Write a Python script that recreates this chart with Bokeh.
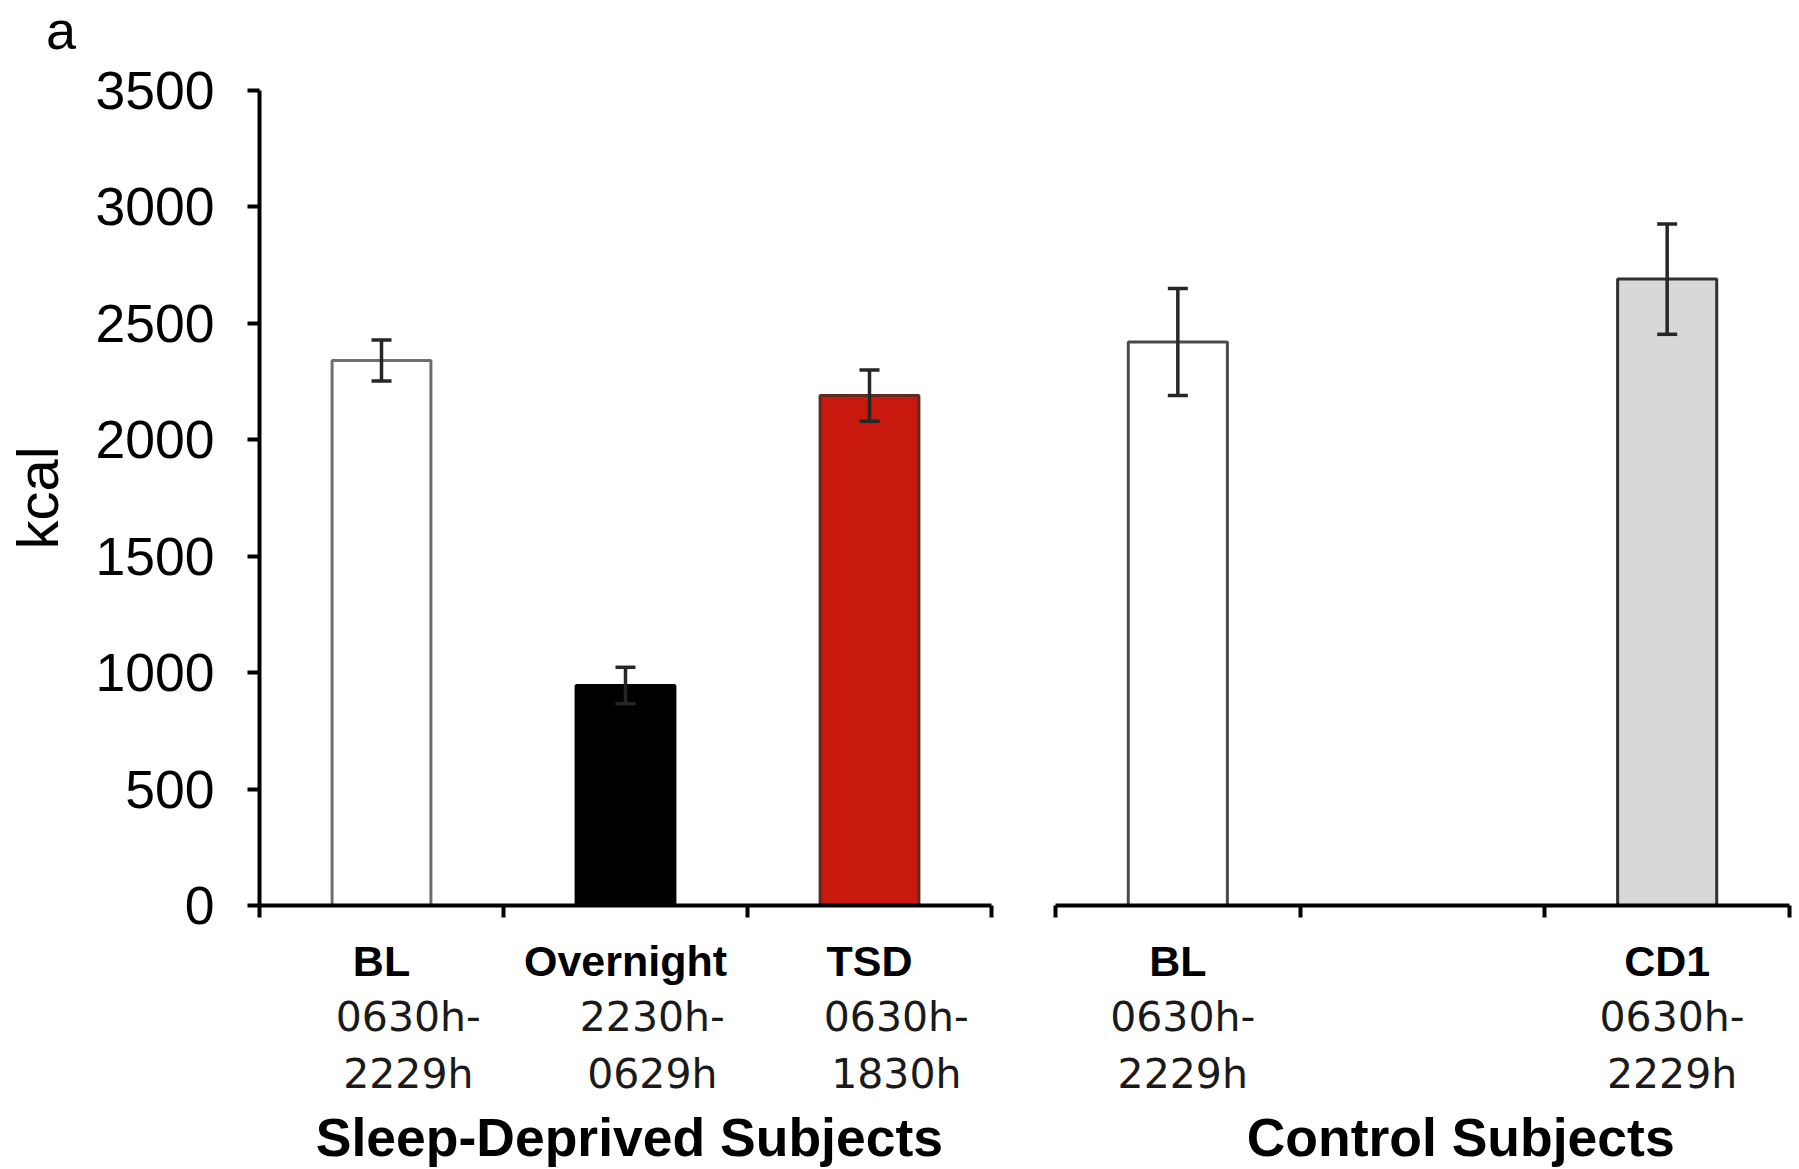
import numpy as np
from bokeh.plotting import figure
from bokeh.models import (LinearAxis, FixedTicker, Range1d, ColumnDataSource,
                          Whisker, TeeHead, Div)
from bokeh.layouts import row, column
from bokeh.embed import file_html
from bokeh.resources import INLINE

# ---------------- data ----------------
sd_names = ["BL", "Overnight", "TSD"]
sd_times = ["0630h-\n2229h", "2230h-\n0629h", "0630h-\n1830h"]
sd_kcal = [2340, 945, 2190]
sd_sem = [88, 78, 110]
sd_fill = ["#FFFFFF", "#000000", "#C8190F"]
sd_edge = ["#6E6E6E", "#000000", "#5E2A25"]

ctrl_names = ["BL", "", "CD1"]
ctrl_times = ["0630h-\n2229h", "", "0630h-\n2229h"]
ctrl_kcal = [2420, np.nan, 2690]
ctrl_sem = [230, np.nan, 237]
ctrl_fill = ["#FFFFFF", "#FFFFFF", "#D8D8D8"]
ctrl_edge = ["#4A4A4A", "#4A4A4A", "#303030"]

group_labels = ["Sleep-Deprived Subjects", "Control Subjects"]
y_ticks = [0, 500, 1000, 1500, 2000, 2500, 3000, 3500]
y_label = "kcal"
panel_letter = "a"

# ---------------- layout constants ----------------
DIV_H = 61
H = 1169 - DIV_H
TOP = 90 - DIV_H
BOTTOM = 1169 - 906
BAR_W = 0.405
ERR_COLOR = "#262626"

y_range = Range1d(0, 3500)


def plain_axis(**kw):
    base = dict(axis_line_color=None, major_tick_line_color=None,
                major_tick_out=0, major_tick_in=0,
                minor_tick_out=0, minor_tick_in=0,
                major_label_text_color="black")
    base.update(kw)
    return LinearAxis(**base)


def make_panel(names, times, kcal, sem, fill, edge, group_label, width,
               border_left, border_right, time_shift, group_pos, with_y):
    n = len(names)
    p = figure(width=width, height=H, x_range=Range1d(0, n), y_range=y_range,
               x_axis_type=None, y_axis_type=None, toolbar_location=None,
               output_backend="svg", min_border_left=border_left,
               min_border_right=border_right, min_border_top=TOP,
               min_border_bottom=BOTTOM, outline_line_color=None,
               background_fill_color="white", border_fill_color="white")

    idx = [i for i in range(n) if not np.isnan(kcal[i])]
    src = ColumnDataSource(dict(
        x=[i + 0.5 for i in idx],
        top=[kcal[i] for i in idx],
        upper=[kcal[i] + sem[i] for i in idx],
        lower=[kcal[i] - sem[i] for i in idx],
        fill=[fill[i] for i in idx],
        edge=[edge[i] for i in idx],
    ))
    p.vbar(x="x", top="top", bottom=0, width=BAR_W, source=src,
           fill_color="fill", line_color="edge", line_width=3)
    p.add_layout(Whisker(source=src, base="x", upper="upper", lower="lower",
                         line_color=ERR_COLOR, line_width=3.5, level="overlay",
                         upper_head=TeeHead(size=20, line_width=3.5, line_color=ERR_COLOR),
                         lower_head=TeeHead(size=20, line_width=3.5, line_color=ERR_COLOR)))

    if with_y:
        yax = LinearAxis(ticker=FixedTicker(ticks=y_ticks), axis_label=y_label,
                         axis_line_width=4, axis_line_color="black",
                         major_tick_line_width=4, major_tick_line_color="black",
                         major_tick_out=12, major_tick_in=0,
                         minor_tick_out=0, minor_tick_in=0,
                         major_label_text_font="Liberation Sans",
                         major_label_text_font_size="53.5px",
                         major_label_text_color="black",
                         major_label_standoff=33,
                         axis_label_text_font="Liberation Sans",
                         axis_label_text_font_size="58px",
                         axis_label_text_font_style="normal",
                         axis_label_text_color="black",
                         axis_label_standoff=22)
        p.add_layout(yax, "left")

    # main axis line with boundary ticks
    bounds = list(range(n + 1))
    ax_a = LinearAxis(ticker=FixedTicker(ticks=bounds),
                      major_label_overrides={b: "" for b in bounds},
                      axis_line_width=4, axis_line_color="black",
                      major_tick_line_width=4, major_tick_line_color="black",
                      major_tick_out=12, major_tick_in=0,
                      minor_tick_out=0, minor_tick_in=0,
                      major_label_text_font_size="1px", major_label_standoff=0)
    p.add_layout(ax_a, "below")

    name_idx = [i for i in range(n) if names[i]]
    ax_b = plain_axis(ticker=FixedTicker(ticks=[i + 0.5 for i in name_idx]),
                      major_label_overrides={i + 0.5: names[i] for i in name_idx},
                      major_label_text_font="Liberation Sans",
                      major_label_text_font_style="bold",
                      major_label_text_font_size="43px",
                      major_label_standoff=19)
    p.add_layout(ax_b, "below")

    time_idx = [i for i in range(n) if times[i]]
    ax_c = plain_axis(ticker=FixedTicker(ticks=[i + 0.5 + time_shift for i in time_idx]),
                      major_label_overrides={i + 0.5 + time_shift: times[i] for i in time_idx},
                      major_label_text_font="DejaVu Sans",
                      major_label_text_font_size="41px",
                      major_label_text_line_height=1.2,
                      major_label_text_color="#1a1a1a",
                      major_label_standoff=5)
    p.add_layout(ax_c, "below")

    ax_d = plain_axis(ticker=FixedTicker(ticks=[group_pos]),
                      major_label_overrides={group_pos: group_label},
                      major_label_text_font="Liberation Sans",
                      major_label_text_font_style="bold",
                      major_label_text_font_size="53.5px",
                      major_label_standoff=6)
    p.add_layout(ax_d, "below")
    return p


left = make_panel(sd_names, sd_times, sd_kcal, sd_sem, sd_fill, sd_edge,
                  group_labels[0], width=1001, border_left=259, border_right=10,
                  time_shift=0.11, group_pos=1.516, with_y=True)
right = make_panel(ctrl_names, ctrl_times, ctrl_kcal, ctrl_sem, ctrl_fill, ctrl_edge,
                   group_labels[1], width=798, border_left=54, border_right=10,
                   time_shift=0.02, group_pos=1.656, with_y=False)

letter = Div(text=panel_letter, width=300, height=DIV_H, margin=0,
             styles={"font-family": "'Liberation Sans', Arial, sans-serif",
                     "font-size": "54px", "line-height": f"{DIV_H}px",
                     "padding-left": "46px", "color": "black"})

layout = column(letter, row(left, right))
open("out.html", "w").write(file_html(layout, INLINE))
